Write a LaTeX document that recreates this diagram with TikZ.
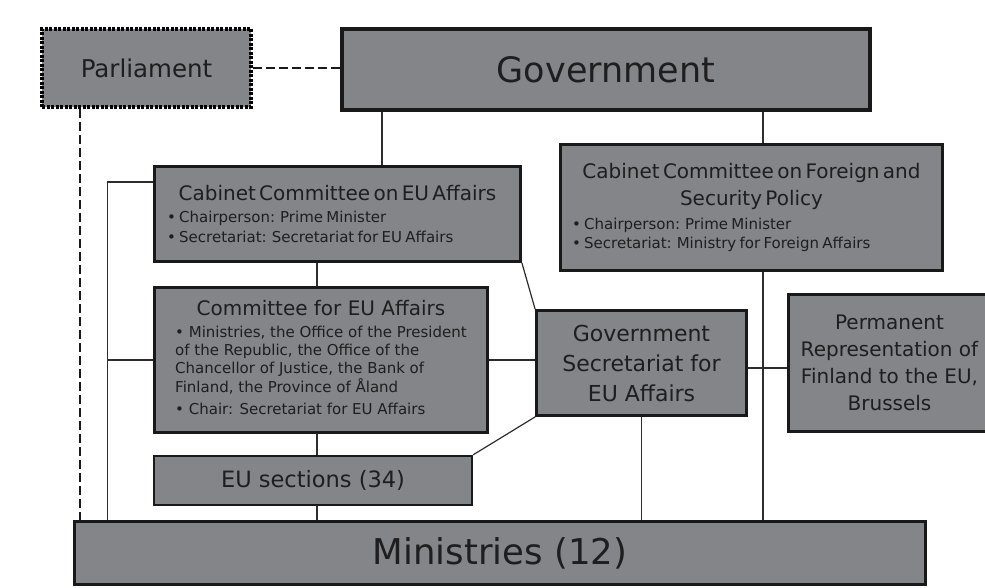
\documentclass[tikz,border=0pt]{standalone}
\usepackage{fontspec}
\setmainfont{DejaVu Sans}
\usepackage{tikz}

\definecolor{boxgray}{RGB}{132,133,137}
\definecolor{inkgray}{RGB}{30,30,32}
\definecolor{wiregray}{RGB}{45,45,45}

\newcommand\headfont{\fontsize{20}{27}\selectfont}
\newcommand\itemfont{\fontsize{15}{18}\selectfont}

\tikzset{
    orgbox/.style={draw=black!90, line width=2.8pt, fill=boxgray, text=inkgray, inner sep=0pt, align=center},
    dotbox/.style={orgbox, draw=black, line width=4pt, dash pattern=on 3pt off 1.5pt},
    wire/.style={line width=1.2pt, draw=wiregray},
    dashwire/.style={line width=2.2pt, draw=black!90, dash pattern=on 9pt off 4pt}
}

\begin{document}
\begin{tikzpicture}[x=1pt, y=-1pt]
        \useasboundingbox (0,0) rectangle (985,588);
        % boxes
        \node [dotbox, minimum width=209, minimum height=78, font=\fontsize{24.5}{28}\selectfont] (parl) at (146.5,68) {Parliament};
        \node [orgbox, line width=3.6pt, minimum width=528, minimum height=81, font=\fontsize{35}{42}\selectfont] (gov) at (606,69.5) {Government};
        \node [orgbox, minimum width=366, minimum height=95, text width=341, align=left] (cceu) at (337.5,214)
            {{\centering\headfont Cabinet Committee on EU Affairs\par}\vspace{4pt}\itemfont
             • Chairperson: Prime Minister\par\vspace{5pt}
             • Secretariat: Secretariat for EU Affairs};
        \node [orgbox, minimum width=382, minimum height=126, text width=359, align=left] (ccfsp) at (751.5,207.5)
            {{\centering\headfont Cabinet Committee on Foreign and\\ Security Policy\par}\vspace{6pt}\itemfont
             • Chairperson: Prime Minister\par\vspace{3pt}
             • Secretariat: Ministry for Foreign Affairs};
        \node [orgbox, minimum width=333, minimum height=145, font=\itemfont] (ceu) at (321,360)
            {\begin{tabular}{@{}c@{}}
                \headfont Committee for EU Affairs\\[4pt]
                \begin{tabular}{@{}l@{}}
                    • Ministries, the Office of the President\\
                    of the Republic, the Office of the\\
                    Chancellor of Justice, the Bank of\\
                    Finland, the Province of Åland\\[4pt]
                    • Chair: Secretariat for EU Affairs
                \end{tabular}
             \end{tabular}};
        \node [orgbox, line width=2.4pt, minimum width=318, minimum height=49, font=\fontsize{22.5}{27}\selectfont] (eusec) at (313,480.5) {EU sections (34)};
        \node [orgbox, minimum width=210, minimum height=105, font=\fontsize{22}{30}\selectfont] (gseu) at (641.5,363)
            {Government\\ Secretariat for\\ EU Affairs};
        \node [orgbox, minimum width=202, minimum height=137, font=\fontsize{20}{27}\selectfont] (perm) at (889.5,363)
            {Permanent\\ Representation of\\ Finland to the EU,\\ Brussels};
        \node [orgbox, line width=3pt, minimum width=851, minimum height=63, font=\fontsize{35.5}{42}\selectfont] (min) at (500,553) {Ministries (12)};
        % parliament links
        \draw [dashwire] (parl.east) -- (parl.east -| gov.west);
        \draw [dashwire] ([xshift=40pt]parl.south west) -- ([xshift=40pt]parl.south west |- min.north);
        % government links
        \draw [wire] ([xshift=44.5pt]cceu.north) -- ([xshift=44.5pt]cceu.north |- gov.south);
        \draw [wire] ([xshift=11.5pt]ccfsp.north) -- ([xshift=11.5pt]ccfsp.north |- gov.south);
        \draw [wire] ([xshift=11.5pt]ccfsp.south) -- ([xshift=11.5pt]ccfsp.south |- min.north);
        % left bus
        \draw [wire] ([yshift=32pt]cceu.west) -- ++(-46,0) coordinate (bus) -- (bus |- min.north);
        \draw [wire] (ceu.west) -- (ceu.west -| bus);
        % middle column
        \draw [wire] ([xshift=-4pt]ceu.north) -- ([xshift=-4pt]ceu.north |- cceu.south);
        \draw [wire] ([xshift=-4pt]ceu.south) -- ([xshift=-4pt]ceu.south |- eusec.north);
        \draw [wire] ([xshift=-4pt]ceu.south |- eusec.south) -- ([xshift=-4pt]ceu.south |- min.north);
        % secretariat links
        \draw [wire] (ceu.east) -- (ceu.east -| gseu.west);
        \draw [wire] (cceu.south east) -- (gseu.north west);
        \draw [wire] (eusec.north east) -- (gseu.south west);
        \draw [wire] (gseu.south) -- (gseu.south |- min.north);
        \draw [wire] ([yshift=-5pt]gseu.east) -- ([yshift=-5pt]gseu.east -| perm.west);
    \end{tikzpicture}
\end{document}
